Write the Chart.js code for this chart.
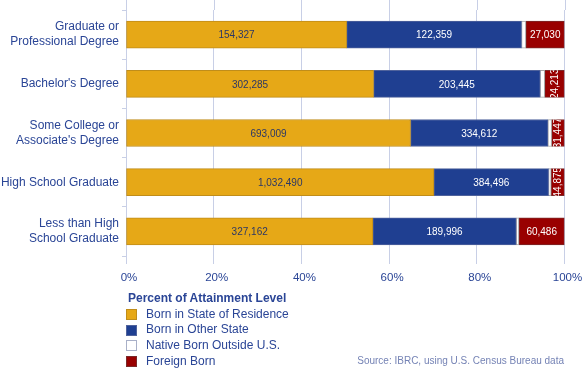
<!DOCTYPE html>
<html><head><meta charset="utf-8">
<script src="https://cdn.jsdelivr.net/npm/chart.js@4"></script>
<style>
html,body{margin:0;padding:0;background:#fff;}
#wrap{position:relative;width:584px;height:369px;font-family:"Liberation Sans",Arial,Helvetica,sans-serif;overflow:hidden;}
#chart{position:absolute;left:0;top:0;}
#legend{position:absolute;left:126px;top:291px;color:#2a4596;font-size:12px;line-height:15.7px;}
#legend .title{font-weight:bold;margin-left:2px;margin-bottom:0px;}
#legend .item{display:flex;align-items:center;height:15.7px;}
#legend .box{width:9px;height:9px;border:1px solid #999;margin-right:9px;box-sizing:content-box;}
#source{position:absolute;right:20px;top:355px;font-size:10px;color:#7583b5;}
</style></head>
<body>
<div id="wrap">
<canvas id="chart" width="584" height="369"></canvas>
<div id="legend"></div>
<div id="source">Source: IBRC, using U.S. Census Bureau data</div>
</div>
<script>
// ---- data ----
const categories = [["Graduate or","Professional Degree"],"Bachelor's Degree",["Some College or","Associate's Degree"],"High School Graduate",["Less than High","School Graduate"]];
const seriesNames = ["Born in State of Residence","Born in Other State","Native Born Outside U.S.","Foreign Born"];
const bornInState = [154327, 302285, 693009, 1032490, 327162];
const bornOtherState = [122359, 203445, 334612, 384496, 189996];
const nativeOutsideUS = [3000, 5500, 9000, 8500, 3500];
const foreignBorn = [27030, 24213, 31447, 44875, 60486];
const xTickValues = [0, 20, 40, 60, 80, 100];
const legendTitle = "Percent of Attainment Level";

// ---- styles ----
const fills = ["#E6A817", "#1F3F91", "#FFFFFF", "#990000"];
const edges = ["#C08D1A", "#50639C", "#A8A8A8", "#7A2A2A"];
const labelColors = ["#2b3766", "#ffffff", null, "#ffffff"];
const gridColor = "#c8cfe6";
const textBlue = "#2a4596";

const rawSeries = [bornInState, bornOtherState, nativeOutsideUS, foreignBorn];
const totals = categories.map((_, i) => rawSeries.reduce((s, arr) => s + arr[i], 0));
const datasets = rawSeries.map((arr, k) => ({
  label: seriesNames[k],
  data: arr.map((v, i) => v / totals[i] * 100),
  raw: arr,
  backgroundColor: fills[k],
  borderColor: edges[k],
  borderWidth: 1,
  borderSkipped: false,
  barThickness: 27
}));

const labelPlugin = {
  id: 'segLabels',
  afterDatasetsDraw(chart) {
    const ctx = chart.ctx;
    chart.data.datasets.forEach((ds, k) => {
      if (!labelColors[k]) return;
      const meta = chart.getDatasetMeta(k);
      meta.data.forEach((el, i) => {
        const p = el.getProps(['x', 'y', 'base', 'height'], true);
        const left = Math.min(p.x, p.base), right = Math.max(p.x, p.base);
        const w = right - left, h = p.height;
        const txt = ds.raw[i].toLocaleString('en-US');
        ctx.save();
        ctx.font = '10px "Liberation Sans", Arial, sans-serif';
        ctx.fillStyle = labelColors[k];
        ctx.textAlign = 'center';
        ctx.textBaseline = 'middle';
        const tw = ctx.measureText(txt).width;
        const cx = (left + right) / 2, cy = p.y;
        if (tw + 4 > w) {
          ctx.beginPath();
          ctx.rect(left, cy - h / 2, w, h);
          ctx.clip();
          ctx.translate(cx + 0.5, cy);
          ctx.rotate(-Math.PI / 2);
          ctx.fillText(txt, 0, 0);
        } else {
          ctx.fillText(txt, cx, cy + 1);
        }
        ctx.restore();
      });
    });
  }
};

const gridExtend = {
  id: 'gridExtend',
  beforeDatasetsDraw(chart) {
    const ctx = chart.ctx, xs = chart.scales.x, top = chart.chartArea.top;
    ctx.save();
    ctx.strokeStyle = gridColor;
    ctx.lineWidth = 1;
    xs.ticks.forEach(t => {
      const x = Math.round(xs.getPixelForValue(t.value)) + 0.5;
      ctx.beginPath();
      ctx.moveTo(x, 0);
      ctx.lineTo(x, top);
      ctx.stroke();
    });
    ctx.restore();
  }
};

new Chart(document.getElementById('chart'), {
  type: 'bar',
  data: { labels: categories, datasets: datasets },
  options: {
    indexAxis: 'y',
    responsive: false,
    animation: false,
    layout: { padding: { left: 0, right: 19.5, top: 10, bottom: 85 } },
    plugins: { legend: { display: false }, tooltip: { enabled: false } },
    scales: {
      x: {
        stacked: true, min: 0, max: 100,
        afterBuildTicks(scale) { scale.ticks = xTickValues.map(v => ({ value: v })); },
        afterFit(scale) { scale.height = 28; scale.paddingLeft = 0; scale.paddingRight = 0; },
        grid: { color: gridColor, tickLength: 8, drawTicks: true },
        border: { display: false },
        ticks: {
          callback: v => v + '%',
          color: textBlue, padding: 7, labelOffset: 3,
          font: { family: '"Liberation Sans", Arial, sans-serif', size: 11.5 }
        }
      },
      y: {
        stacked: true,
        afterFit(scale) { scale.width = 126; scale.paddingTop = 0; scale.paddingBottom = 0; },
        grid: { display: true, drawOnChartArea: false, color: gridColor, tickLength: 4, offset: true },
        border: { display: true, color: gridColor },
        ticks: {
          color: textBlue, padding: 3,
          font: { family: '"Liberation Sans", Arial, sans-serif', size: 12, lineHeight: 1.25 }
        }
      }
    }
  },
  plugins: [labelPlugin, gridExtend]
});

// legend (HTML, built from the series)
const lg = document.getElementById('legend');
const t = document.createElement('div'); t.className = 'title'; t.textContent = legendTitle; lg.appendChild(t);
seriesNames.forEach((n, k) => {
  const it = document.createElement('div'); it.className = 'item';
  const b = document.createElement('span'); b.className = 'box';
  b.style.background = fills[k]; b.style.borderColor = k === 2 ? '#a9b0c8' : edges[k];
  const s = document.createElement('span'); s.textContent = n;
  it.appendChild(b); it.appendChild(s); lg.appendChild(it);
});
</script>
</body></html>
